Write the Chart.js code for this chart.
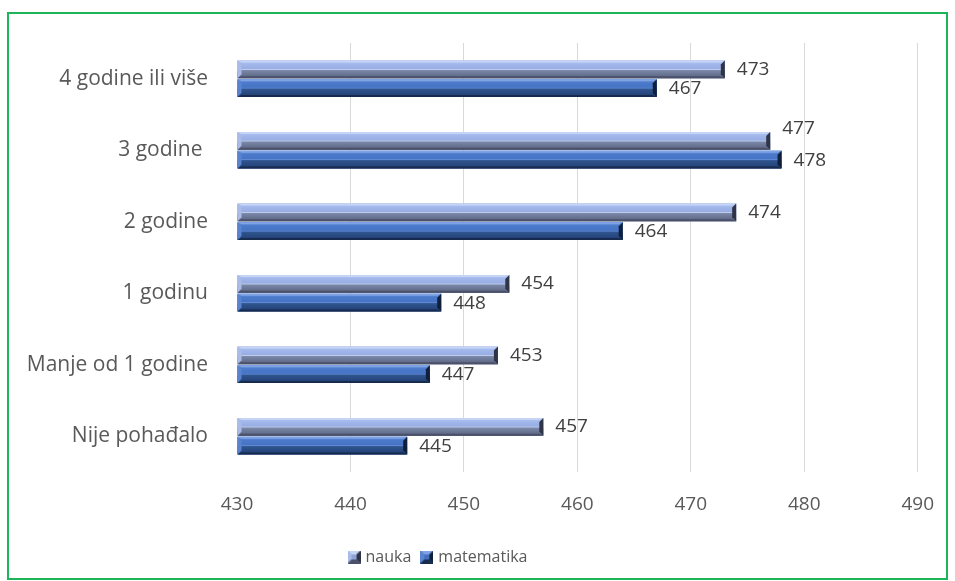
<!DOCTYPE html>
<html>
<head>
<meta charset="utf-8">
<title>Nauka i matematika</title>
<script src="https://cdn.jsdelivr.net/npm/chart.js@4.4.1/dist/chart.umd.min.js"></script>
<style>
  html, body { margin: 0; padding: 0; background: #fff; }
  #wrap { position: relative; width: 955px; height: 581px; }
  #frame {
    position: absolute; left: 7px; top: 12px; width: 941px; height: 568px;
    border: 2px solid #1eb45a; box-sizing: border-box; pointer-events: none;
  }
  #barChart { position: absolute; left: 0; top: 0; }
</style>
</head>
<body>
<div id="wrap">
  <canvas id="barChart" width="955" height="581"></canvas>
  <div id="frame"></div>
</div>
<script>
// data
const categories = ['4 godine ili više', '3 godine ', '2 godine', '1 godinu', 'Manje od 1 godine', 'Nije pohađalo'];
const seriesNames = ['nauka', 'matematika'];
const naukaValues = [473, 477, 474, 454, 453, 457];
const matematikaValues = [467, 478, 464, 448, 447, 445];
const xTicks = [430, 440, 450, 460, 470, 480, 490];

const axisMin = xTicks[0];
const axisMax = xTicks[xTicks.length - 1];
const FONT = '"Open Sans", Lato, sans-serif';

// look of the bevelled bars
const bevel = [
    { // nauka
        base: '#8fa3d6',
        stops: [[0, '#b3c6f1'], [0.2, '#a2b8ec'], [0.46, '#97ade3'], [0.5, '#c2cfee'],
                [0.56, '#7a87a8'], [0.85, '#646e8c'], [1, '#56607c']],
        top: '#c6d5f6', bottom: '#4a5168', left: '#a9bbe6', right: '#2f3447'
    },
    { // matematika
        base: '#4170c0',
        stops: [[0, '#6a93dc'], [0.2, '#4c7acb'], [0.46, '#4673c4'], [0.5, '#5f8ad6'],
                [0.56, '#30558f'], [0.85, '#26457c'], [1, '#1f3864']],
        top: '#7fa3e4', bottom: '#172b4e', left: '#5a83cf', right: '#0f1f3c'
    }
];

function poly(ctx, pts) {
    ctx.beginPath();
    ctx.moveTo(pts[0], pts[1]);
    for (let i = 2; i < pts.length; i += 2) ctx.lineTo(pts[i], pts[i + 1]);
    ctx.closePath();
    ctx.fill();
}

function makeLegendIcon(style) {
    const c = document.createElement('canvas');
    c.width = 13; c.height = 13;
    const g = c.getContext('2d');
    const s = 13, b = 4;
    g.fillStyle = style.base; g.fillRect(0, 0, s, s);
    g.fillStyle = style.top; poly(g, [0, 0, s, 0, s - b, b, b, b]);
    g.fillStyle = style.left; poly(g, [0, 0, b, b, b, s - b, 0, s]);
    g.fillStyle = style.right; poly(g, [s, 0, s, s, s - b, s - b, s - b, b]);
    g.fillStyle = style.bottom; poly(g, [0, s, s, s, s - b, s - b, b, s - b]);
    return c;
}
const legendIcons = bevel.map(makeLegendIcon);

// 1. bevel over each bar drawn by the library
const bevelPlugin = {
    id: 'bevel',
    afterDatasetsDraw(chart) {
        const ctx = chart.ctx;
        chart.data.datasets.forEach((ds, d) => {
            const st = bevel[d];
            chart.getDatasetMeta(d).data.forEach(bar => {
                const p = bar.getProps(['x', 'y', 'base', 'height'], true);
                const top = p.y - p.height / 2, bot = p.y + p.height / 2;
                const left = Math.min(p.base, p.x), right = Math.max(p.base, p.x);
                const b = Math.min(4, p.height / 4);
                const g = ctx.createLinearGradient(0, top, 0, bot);
                st.stops.forEach(s => g.addColorStop(s[0], s[1]));
                ctx.save();
                ctx.fillStyle = g;
                ctx.fillRect(left, top, right - left, p.height);
                ctx.fillStyle = st.top;
                poly(ctx, [left, top, right, top, right - b, top + 2, left + b, top + 2]);
                ctx.fillStyle = st.bottom;
                poly(ctx, [left, bot, right, bot, right - b, bot - 2, left + b, bot - 2]);
                ctx.fillStyle = st.left;
                poly(ctx, [left, top, left + b, top + b, left + b, bot - b, left, bot]);
                ctx.fillStyle = st.right;
                poly(ctx, [right, top, right - b, top + b, right - b, bot - b, right, bot]);
                ctx.restore();
            });
        });
    }
};

// 2. value labels at the end of the bars
const valueLabelPlugin = {
    id: 'valueLabels',
    afterDatasetsDraw(chart) {
        const ctx = chart.ctx;
        ctx.save();
        ctx.font = '19px ' + FONT;
        ctx.fillStyle = '#404040';
        ctx.textAlign = 'left';
        ctx.textBaseline = 'middle';
        const m0 = chart.getDatasetMeta(0).data;
        const m1 = chart.getDatasetMeta(1).data;
        categories.forEach((_, i) => {
            const t0 = String(chart.data.datasets[0].data[i]);
            const t1 = String(chart.data.datasets[1].data[i]);
            const x0 = m0[i].x + 12, x1 = m1[i].x + 12;
            let y0 = m0[i].y;
            // push the upper label away when both would collide
            if (Math.abs(x0 - x1) < ctx.measureText(t0).width) y0 -= 12;
            ctx.fillText(t0, x0, y0);
            ctx.fillText(t1, x1, m1[i].y + 1);
        });
        ctx.restore();
    }
};

// 3. legend sits a little left of the page centre
const legendShift = {
    id: 'legendShift',
    afterLayout(chart) {
        const lg = chart.legend;
        if (!lg) return;
        lg.left -= 24;
        lg.right -= 24;
    }
};

Chart.defaults.font.family = FONT;
Chart.defaults.color = '#595959';

const ctx = document.getElementById('barChart');
new Chart(ctx, {
    type: 'bar',
    data: {
        labels: categories,
        datasets: [
            { label: seriesNames[0], data: naukaValues, base: axisMin, backgroundColor: bevel[0].base },
            { label: seriesNames[1], data: matematikaValues, base: axisMin, backgroundColor: bevel[1].base }
        ]
    },
    options: {
        indexAxis: 'y',
        responsive: false,
        animation: false,
        categoryPercentage: 0.52,
        barPercentage: 0.95,
        borderWidth: 0,
        layout: { padding: { top: 43, right: 29, left: 0, bottom: 6 } },
        scales: {
            x: {
                min: axisMin,
                max: axisMax,
                afterBuildTicks: scale => { scale.ticks = xTicks.map(v => ({ value: v })); },
                afterFit: scale => { scale.height = 65; },
                grid: {
                    color: c => (c.tick && c.tick.value === axisMin ? 'rgba(0,0,0,0)' : '#d9d9d9'),
                    drawTicks: false
                },
                border: { display: false },
                ticks: { font: { size: 19 }, padding: 21, color: '#595959' }
            },
            y: {
                afterFit: scale => { scale.width = 237; },
                grid: { display: false, drawTicks: false },
                border: { display: false },
                ticks: { font: { size: 21 }, padding: 29, color: '#595959' }
            }
        },
        plugins: {
            legend: {
                position: 'bottom',
                labels: {
                    usePointStyle: true,
                    pointStyleWidth: 7,
                    font: { size: 16 },
                    color: '#595959',
                    padding: 12,
                    generateLabels(chart) {
                        const items = Chart.defaults.plugins.legend.labels.generateLabels(chart);
                        items.forEach((it, i) => { it.pointStyle = legendIcons[i]; });
                        return items;
                    }
                }
            },
            tooltip: { enabled: false }
        }
    },
    plugins: [bevelPlugin, valueLabelPlugin, legendShift]
});
</script>
</body>
</html>
